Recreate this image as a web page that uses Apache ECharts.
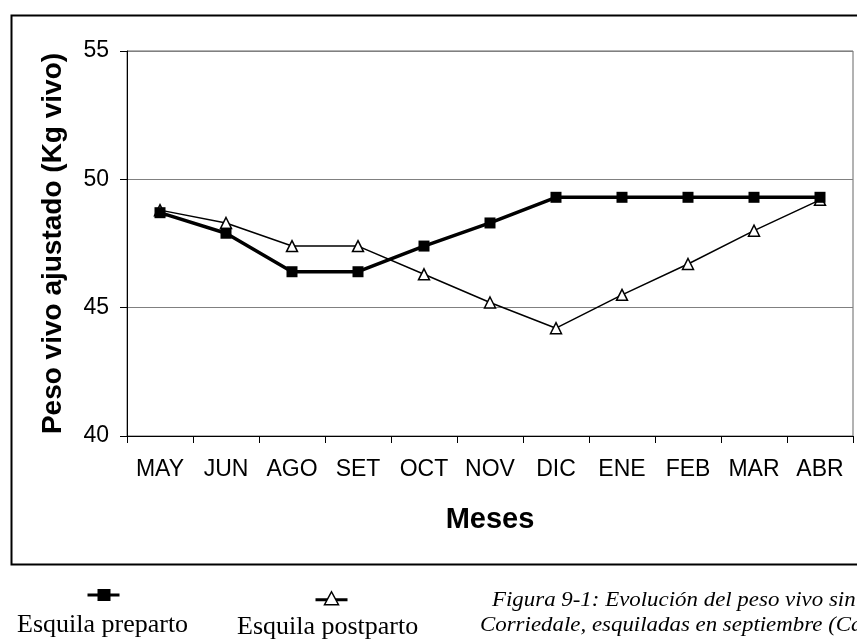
<!DOCTYPE html>
<html>
<head>
<meta charset="utf-8">
<script src="https://cdn.jsdelivr.net/npm/echarts@6/dist/echarts.min.js"></script>
<style>
  html, body { margin: 0; padding: 0; background: #fff; }
  #chart-container { width: 857px; height: 644px; }
</style>
</head>
<body>
<div id="chart-container"></div>
<script>
let dom = document.getElementById("chart-container");
let myChart = echarts.init(dom, null, { renderer: "canvas" });

// months on the x axis
const meses = ["MAY", "JUN", "AGO", "SET", "OCT", "NOV", "DIC", "ENE", "FEB", "MAR", "ABR"];
// adjusted live weight (kg)
const preparto = [48.7, 47.9, 46.4, 46.4, 47.4, 48.3, 49.3, 49.3, 49.3, 49.3, 49.3];
const postparto = [48.8, 48.3, 47.4, 47.4, 46.3, 45.2, 44.2, 45.5, 46.7, 48.0, 49.2];
const yTicks = [40, 45, 50, 55];

const serif = "'Liberation Serif', 'DejaVu Serif', serif";
const sans = "'Liberation Sans', Arial, sans-serif";

// caption text (cut by the right edge in the source); spread a bit to mimic the justified print
const captionLines = [
  { x: 492, y: 590, text: "Figura 9-1: Evolución del peso vivo sin" },
  { x: 480, y: 615, text: "Corriedale, esquiladas en septiembre (Ca" },
];
const captionGraphics = captionLines.map((l) => ({
  type: "text",
  x: l.x,
  y: l.y,
  scaleX: 1.09,
  style: { text: l.text, font: "italic 21px " + serif, fill: "#000", verticalAlign: "top" },
}));

let option = {
  backgroundColor: "#fff",
  animation: false,
  grid: {
    left: 127,
    right: 4,
    top: 51,
    bottom: 208,
    show: true,
    borderColor: "#666",
    borderWidth: 1,
  },
  xAxis: {
    type: "category",
    data: meses,
    boundaryGap: true,
    axisLine: { lineStyle: { color: "#000", width: 1 } },
    axisTick: { show: true, length: 7, lineStyle: { color: "#000" } },
    axisLabel: {
      interval: 0,
      margin: 22,
      color: "#000",
      fontSize: 23,
      fontFamily: sans,
    },
    name: "Meses",
    nameLocation: "middle",
    nameGap: 69,
    nameTextStyle: {
      color: "#000",
      fontSize: 29,
      fontWeight: "bold",
      fontFamily: sans,
    },
  },
  yAxis: {
    type: "value",
    min: yTicks[0],
    max: yTicks[yTicks.length - 1],
    interval: 5,
    axisLine: { show: true, lineStyle: { color: "#000", width: 1 } },
    axisTick: { show: true, length: 7, lineStyle: { color: "#000" } },
    axisLabel: {
      margin: 18,
      color: "#000",
      fontSize: 23,
      fontFamily: sans,
    },
    splitLine: { show: true, lineStyle: { color: "#808080", width: 1 } },
    name: "Peso vivo ajustado (Kg vivo)",
    nameLocation: "middle",
    nameGap: 60,
    nameTextStyle: {
      color: "#000",
      fontSize: 28,
      fontWeight: "bold",
      fontFamily: sans,
    },
  },
  series: [
    {
      name: "Esquila postparto",
      type: "line",
      data: postparto,
      symbol: "triangle",
      symbolSize: 11,
      lineStyle: { color: "#000", width: 1.5 },
      itemStyle: { color: "#fff", borderColor: "#000", borderWidth: 1.5 },
      z: 2,
    },
    {
      name: "Esquila preparto",
      type: "line",
      data: preparto,
      symbol: "rect",
      symbolSize: 11,
      lineStyle: { color: "#000", width: 3.5 },
      itemStyle: { color: "#000", borderColor: "#000", borderWidth: 0 },
      z: 3,
    },
  ],
  graphic: [
    // outer frame of the chart
    {
      type: "rect",
      left: 9,
      top: 13,
      shape: { width: 880, height: 549 },
      style: { fill: null, stroke: "#000", lineWidth: 2 },
      silent: true,
    },
    // legend: preparto
    {
      type: "group",
      left: 85,
      top: 589,
      children: [
        { type: "line", shape: { x1: 0, y1: 6, x2: 32, y2: 6 }, style: { stroke: "#000", lineWidth: 3 } },
        { type: "rect", shape: { x: 10, y: 0, width: 13, height: 12 }, style: { fill: "#000" } },
      ],
    },
    {
      type: "text",
      left: 17,
      top: 612,
      style: { text: "Esquila preparto", font: "26px " + serif, fill: "#000" },
    },
    // legend: postparto
    {
      type: "group",
      left: 313,
      top: 591,
      children: [
        { type: "line", shape: { x1: 0, y1: 8, x2: 32, y2: 8 }, style: { stroke: "#000", lineWidth: 3 } },
        { type: "polygon", shape: { points: [[16, 0], [23, 13], [9, 13]] }, style: { fill: "#fff", stroke: "#000", lineWidth: 1.5 } },
      ],
    },
    {
      type: "text",
      left: 237,
      top: 614,
      style: { text: "Esquila postparto", font: "26px " + serif, fill: "#000" },
    },
  ].concat(captionGraphics),
};

myChart.setOption(option);
window.addEventListener("resize", myChart.resize);
</script>
</body>
</html>
